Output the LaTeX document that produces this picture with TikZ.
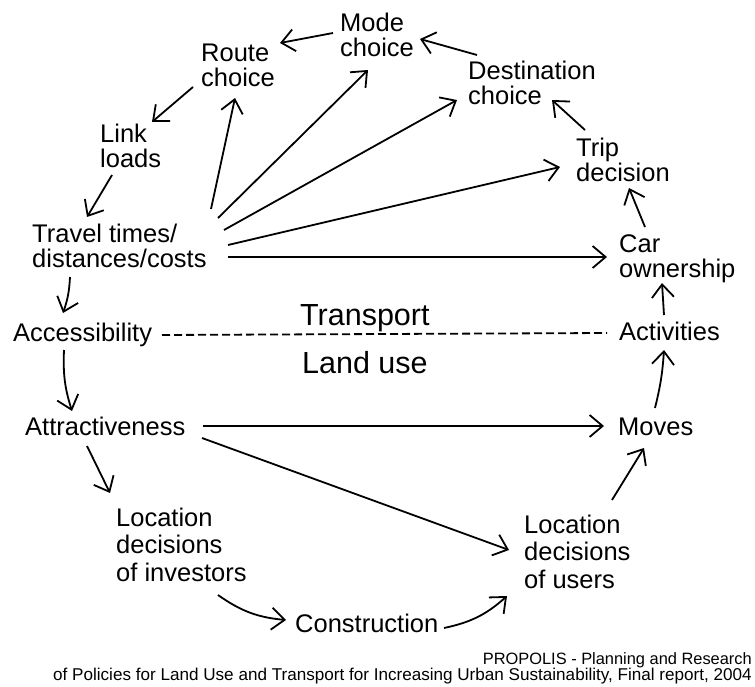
\documentclass[tikz,border=0pt]{standalone}
\usepackage{fontspec}
\setmainfont{Liberation Sans}
\usetikzlibrary{arrows.meta}
\newcommand{\twolines}[2]{\vtop{\lineskiplimit=-50pt\hbox{#1}\hbox{#2}}}
\newcommand{\threelines}[3]{\vtop{\lineskiplimit=-50pt\hbox{#1}\hbox{#2}\hbox{#3}}}
\tikzset{
  lbl/.style={inner sep=0pt, anchor=base west, font=\fontsize{25.5}{24.5}\selectfont},
  lbltall/.style={lbl, font=\fontsize{25.5}{27.5}\selectfont},
  big/.style={inner sep=0pt, anchor=base west, font=\fontsize{30.5}{30}\selectfont},
  captxt/.style={inner sep=0pt, anchor=base east, align=right, font=\fontsize{17.1}{16}\selectfont},
  arr/.style={line width=1.8pt, -{Straight Barb[length=13pt,width=22pt,line width=1.8pt]}},
  dashline/.style={line width=1.8pt, dash pattern=on 8pt off 4pt}
}
\begin{document}
\begin{tikzpicture}[x=1pt,y=-1pt]
\useasboundingbox (0,0) rectangle (755,687);
\node[lbl] (route) at (201,62) {\twolines{Route}{choice}};
\node[lbl] (mode) at (340,32) {\twolines{Mode}{choice}};
\node[lbl] (dest) at (468,80) {\twolines{Destination}{choice}};
\node[lbl] (trip) at (576,157) {\twolines{Trip}{decision}};
\node[lbl] (car) at (619,253) {\twolines{Car}{ownership}};
\node[lbl] (link) at (100,143) {\twolines{Link}{loads}};
\node[lbl] (travel) at (32,243) {\twolines{Travel times/}{distances/costs}};
\node[lbl] (access) at (13,341) {Accessibility};
\node[lbl] (activ) at (619,340) {Activities};
\node[lbl] (attract) at (25,435) {Attractiveness};
\node[lbl] (moves) at (618,435) {Moves};
\node[lbltall] (locinv) at (116,526) {\threelines{Location}{decisions}{of investors}};
\node[lbltall] (locuse) at (524,533) {\threelines{Location}{decisions}{of users}};
\node[lbl] (constr) at (295,632) {Construction};
\node[big] (transport) at (300,325) {Transport};
\node[big] (landuse) at (302,373) {Land use};
\node[captxt] (caption) at (752,680) {{\fontsize{16.4}{16}\selectfont PROPOLIS - Planning and Research}\\of Policies for Land Use and Transport for Increasing Urban Sustainability, Final report, 2004};

\draw[arr] ([shift={(-7,1)}]mode.base west) -- ([shift={(79,-19)}]route.base west);
\draw[arr] ([shift={(-8,25)}]route.base west) -- ([shift={(52,-21)}]link.base west);
\draw[arr] ([shift={(12,32)}]link.base west) -- ([shift={(55,-26)}]travel.base west);
\draw[arr] ([shift={(38,34)}]travel.base west) to[bend left=8] ([shift={(50,-28)}]access.base west);
\draw[arr] ([shift={(179,-34)}]travel.base west) -- ([shift={(34,36)}]route.base west);
\draw[arr] ([shift={(186,-25)}]travel.base west) -- ([shift={(28,38)}]mode.base west);
\draw[arr] ([shift={(192,-13)}]travel.base west) -- ([shift={(-11,20)}]dest.base west);
\draw[arr] ([shift={(196,2)}]travel.base west) -- ([shift={(-16,10)}]trip.base west);
\draw[arr] ([shift={(196,14)}]travel.base west) -- ([shift={(-12,4)}]car.base west);
\draw[arr] ([shift={(9,-25)}]dest.base west) -- ([shift={(80,7)}]mode.base west);
\draw[arr] ([shift={(9,-27)}]trip.base west) -- ([shift={(84,20)}]dest.base west);
\draw[arr] ([shift={(26,-26)}]car.base west) -- ([shift={(53,31)}]trip.base west);
\draw[arr] ([shift={(45,-25)}]activ.base west) -- ([shift={(43,30)}]car.base west);
\draw[dashline] ([shift={(149,-6)}]access.base west) -- ([shift={(-12,-7)}]activ.base west);
\draw[arr] ([shift={(51,9)}]access.base west) to[bend right=10] ([shift={(47,-24)}]attract.base west);
\draw[arr] ([shift={(178,-9)}]attract.base west) -- ([shift={(-14,-9)}]moves.base west);
\draw[arr] ([shift={(177,3)}]attract.base west) -- ([shift={(-15,17)}]locuse.base west);
\draw[arr] ([shift={(62,11)}]attract.base west) -- ([shift={(-6,-33)}]locinv.base west);
\draw[arr] ([shift={(102,69)}]locinv.base west) to[bend right=15] ([shift={(-9,-12)}]constr.base west);
\draw[arr] ([shift={(149,-4)}]constr.base west) to[bend right=15] ([shift={(-17,63)}]locuse.base west);
\draw[arr] ([shift={(88,-33)}]locuse.base west) -- ([shift={(26,13)}]moves.base west);
\draw[arr] ([shift={(37,-27)}]moves.base west) to[bend right=5] ([shift={(45,10)}]activ.base west);
\end{tikzpicture}
\end{document}
